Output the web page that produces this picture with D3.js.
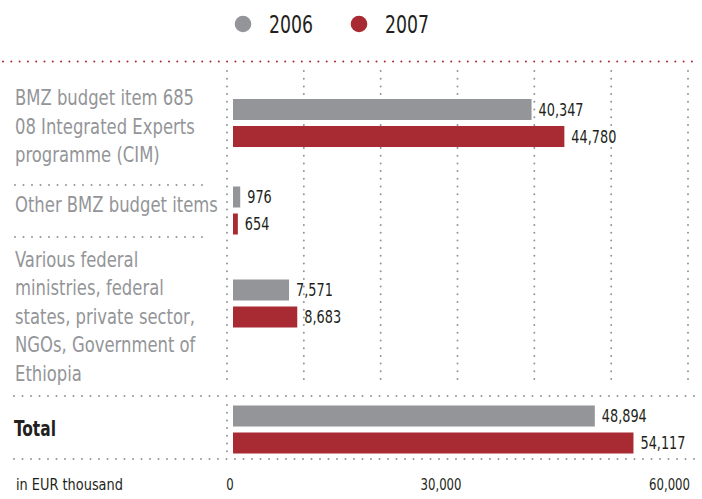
<!DOCTYPE html>
<html>
<head>
<meta charset="utf-8">
<script src="https://cdn.jsdelivr.net/npm/d3@7"></script>
<style>
  html, body { margin: 0; padding: 0; background: #fff; }
  svg { display: block; }
  text { font-family: "DejaVu Sans Condensed", "DejaVu Sans", sans-serif; font-stretch: condensed; }
</style>
</head>
<body>
<svg id="chart" width="702" height="499"></svg>
<script>
// ---- data ----
const categories = ["cim", "otherBmz", "various", "total"];
const labelLines = [
  ["BMZ budget item 685", "08 Integrated Experts", "programme (CIM)"],
  ["Other BMZ budget items"],
  ["Various federal", "ministries, federal", "states, private sector,", "NGOs, Government of", "Ethiopia"],
  ["Total"]
];
const years = ["2006", "2007"];
const values2006 = [40347, 976, 7571, 48894];
const values2007 = [44780, 654, 8683, 54117];
const tickValues = [0, 30000, 60000];
const tickLabels = ["0", "30,000", "60,000"];
const gridValues = [0, 10000, 20000, 30000, 40000, 50000, 60000];
const unitLabel = "in EUR thousand";

// ---- styles ----
const GRAY = "#939598";
const RED = "#a82a32";
const DARK = "#231f20";
const colors = d3.scaleOrdinal().domain(years).range([GRAY, RED]);

const svg = d3.select("#chart");

// text styles, each fitted to a condensed DIN-like width
const styles = {
  label:  { size: 21, weight: "normal", sample: "Other BMZ budget items", width: 203 },
  total:  { size: 21, weight: "bold",   sample: "Total", width: 42 },
  legend: { size: 24, weight: "normal", sample: "2006", width: 44 },
  value:  { size: 18, weight: "normal", sample: "40,347", width: 45 },
  tick:   { size: 15, weight: "normal", sample: "30,000", width: 41 },
  unit:   { size: 15, weight: "normal", sample: "in EUR thousand", width: 107 }
};
Object.values(styles).forEach(s => {
  const t = svg.append("text").attr("font-size", s.size).attr("font-weight", s.weight).text(s.sample);
  const w = t.node().getComputedTextLength();
  s.sx = w > 0 ? s.width / w : 0.85;
  t.remove();
});
function addText(parent, style, tx, ty, str, fill, anchor) {
  const s = styles[style];
  const g = parent.append("g").attr("transform", `translate(${tx},${ty}) scale(${s.sx},1)`);
  g.append("text").attr("x", 0).attr("y", 0).attr("dy", "0.36em")
    .attr("font-size", s.size).attr("font-weight", s.weight)
    .attr("text-anchor", anchor || "start").attr("fill", fill).text(str);
  return g;
}

// ---- scales ----
const x = d3.scaleLinear().domain([0, 60000]).range([233, 677]);
const xGrid = d3.scaleLinear().domain([0, 60000]).range([227, 688]);
const tickCenter = d3.scaleOrdinal().domain(tickValues).range([230, 441, 669.5]);
const barCenter = d3.scaleOrdinal().domain(categories).range([123, 210.5, 303.5, 429.5]);
const labelCenter = d3.scaleOrdinal().domain(categories).range([126, 204, 316, 428]);
const inner = d3.scaleBand().domain(years).range([-24, 24]).paddingInner(0.222);
const lineH = 28.5;

// ---- legend ----
const legend = svg.append("g");
const legendX = d3.scaleOrdinal().domain(years).range([243, 359]);
years.forEach(yr => {
  legend.append("circle").attr("cx", legendX(yr)).attr("cy", 24).attr("r", 8.3).attr("fill", colors(yr));
  addText(legend, "legend", legendX(yr) + 26, 24, yr, DARK);
});

// ---- dotted lines ----
function dotted(x1, y1, x2, y2, color, gap) {
  svg.append("line").attr("x1", x1).attr("y1", y1).attr("x2", x2).attr("y2", y2)
    .attr("stroke", color).attr("stroke-width", 2).attr("stroke-linecap", "round")
    .attr("stroke-dasharray", `0,${gap}`);
}
dotted(3, 61.5, 698, 61.5, RED, 8.3);
dotted(15, 185, 210, 185, GRAY, 8.5);
dotted(15, 237, 210, 237, GRAY, 8.5);
dotted(14, 396, 698, 396, GRAY, 8.5);
dotted(14, 459, 698, 459, GRAY, 8.5);

gridValues.forEach(v => dotted(xGrid(v), 71, xGrid(v), 383, GRAY, 7.7));
dotted(xGrid(0), 405, xGrid(0), 453, GRAY, 7.7);

// ---- category labels ----
const labelsG = svg.append("g");
categories.forEach((c, i) => {
  const lines = labelLines[i];
  const isTotal = c === "total";
  lines.forEach((ln, j) => {
    addText(labelsG, isTotal ? "total" : "label", isTotal ? 14 : 15,
      labelCenter(c) + (j - (lines.length - 1) / 2) * lineH, ln, isTotal ? DARK : GRAY);
  });
});

// ---- bars ----
const rows = [];
categories.forEach((c, i) => {
  rows.push({ cat: c, year: "2006", value: values2006[i] });
  rows.push({ cat: c, year: "2007", value: values2007[i] });
});
const fmt = d3.format(",");
svg.append("g").selectAll("rect").data(rows).join("rect")
  .attr("x", x(0))
  .attr("y", d => barCenter(d.cat) + inner(d.year))
  .attr("width", d => x(d.value) - x(0))
  .attr("height", inner.bandwidth())
  .attr("fill", d => colors(d.year));
const valuesG = svg.append("g");
rows.forEach(d => {
  addText(valuesG, "value", x(d.value) + 7,
    barCenter(d.cat) + inner(d.year) + inner.bandwidth() / 2, fmt(d.value), DARK);
});

// ---- axis labels ----
addText(svg, "unit", 16, 485, unitLabel, DARK);
tickValues.forEach((v, i) => {
  addText(svg, "tick", tickCenter(v), 485, tickLabels[i], DARK, "middle");
});
</script>
</body>
</html>
